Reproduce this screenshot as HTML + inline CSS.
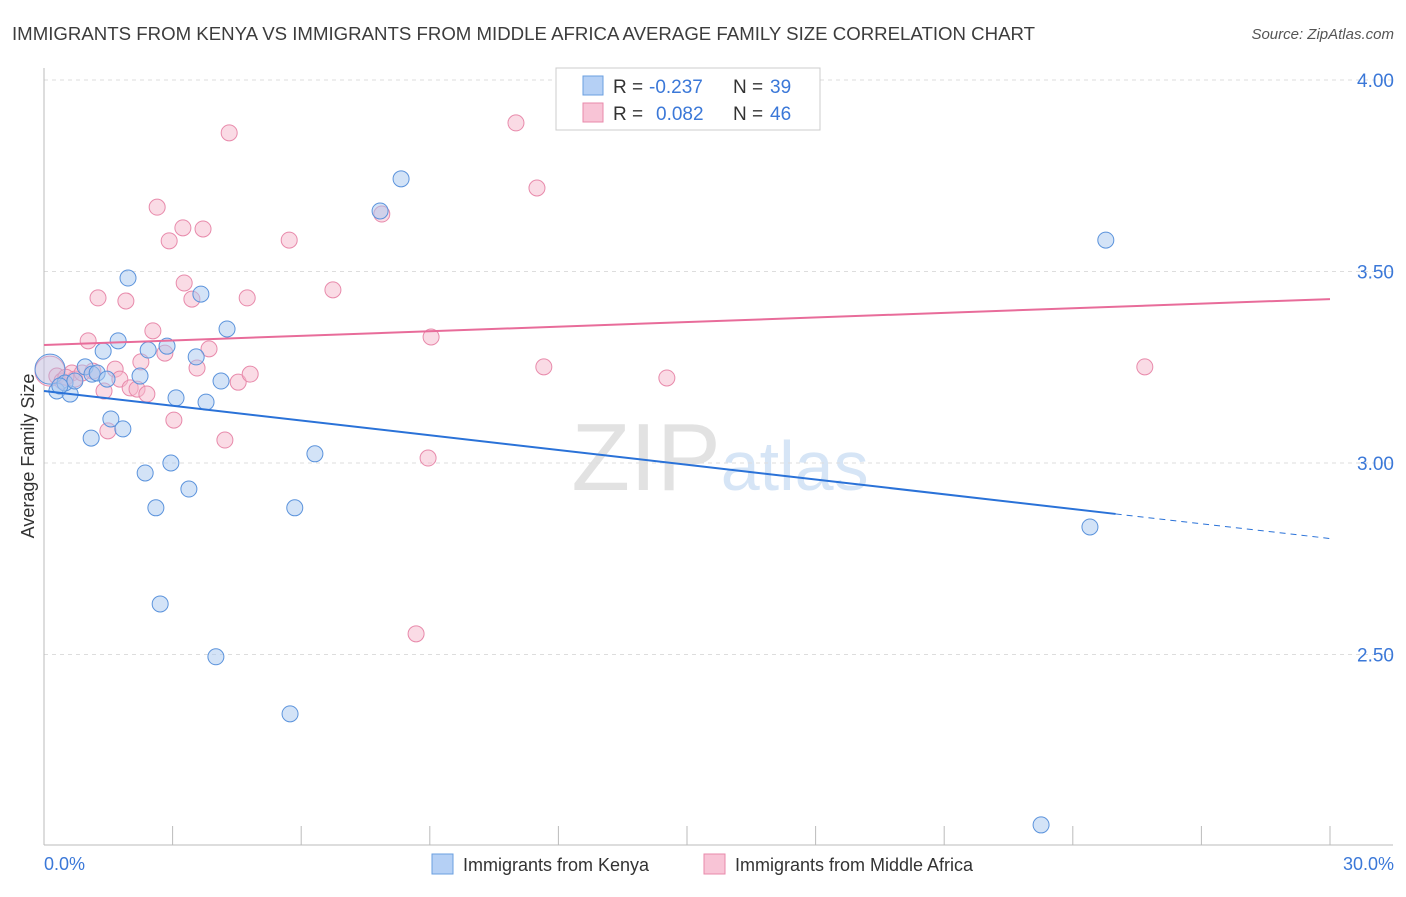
<!DOCTYPE html>
<html><head><meta charset="utf-8"><style>
body{margin:0;background:#fff;font-family:"Liberation Sans",sans-serif;}
svg text{font-family:"Liberation Sans",sans-serif;}
</style></head><body>
<svg id="chart" width="1406" height="892" viewBox="0 0 1406 892" xmlns="http://www.w3.org/2000/svg">
<text x="12" y="40" font-size="18" fill="#3c3c3c" textLength="1023" lengthAdjust="spacingAndGlyphs">IMMIGRANTS FROM KENYA VS IMMIGRANTS FROM MIDDLE AFRICA AVERAGE FAMILY SIZE CORRELATION CHART</text>
<text x="1394" y="39" font-size="15" fill="#555" font-style="italic" text-anchor="end">Source: ZipAtlas.com</text>
<text x="720" y="490" font-size="96" fill="#e8e8e8" text-anchor="middle" font-family="Liberation Serif"><tspan fill="#e2e2e2">ZIP</tspan><tspan fill="#d6e5f6" font-family="Liberation Sans" font-size="70">atlas</tspan></text>
<g id="grid"></g>
<g id="axes"></g>
<g id="pts"></g>
<g id="lines"></g>
<text transform="translate(34,456) rotate(-90)" font-size="18" fill="#333" text-anchor="middle">Average Family Size</text>
<text x="44" y="870" font-size="18" fill="#3b78d8">0.0%</text>
<text x="1394" y="870" font-size="18" fill="#3b78d8" text-anchor="end">30.0%</text>
<g>
<rect x="556" y="68" width="264" height="62" fill="#fff" stroke="#ccc"/>
<rect x="583" y="76" width="20" height="19" fill="#b5d0f5" stroke="#6a9fe0"/>
<rect x="583" y="103" width="20" height="19" fill="#f8c4d6" stroke="#e88aab"/>
<text x="613" y="93" font-size="19" fill="#333">R =</text>
<text x="649" y="93" font-size="19" fill="#3b78d8">-0.237</text>
<text x="733" y="93" font-size="19" fill="#333">N =</text>
<text x="770" y="93" font-size="19" fill="#3b78d8">39</text>
<text x="613" y="120" font-size="19" fill="#333">R =</text>
<text x="656" y="120" font-size="19" fill="#3b78d8">0.082</text>
<text x="733" y="120" font-size="19" fill="#333">N =</text>
<text x="770" y="120" font-size="19" fill="#3b78d8">46</text>
</g>
<g>
<rect x="432" y="854" width="21" height="20" fill="#b5d0f5" stroke="#6a9fe0"/>
<text x="463" y="871" font-size="18" fill="#333">Immigrants from Kenya</text>
</g>
<g>
<rect x="704" y="854" width="21" height="20" fill="#f8c4d6" stroke="#e88aab"/>
<text x="735" y="871" font-size="18" fill="#333">Immigrants from Middle Africa</text>
</g>
</svg>
<script>
const yTicks=[4.0,3.5,3.0,2.5];
const yTickLabels=["4.00","3.50","3.00","2.50"];
const kenyaX=[0.14,0.30,0.61,0.49,0.72,0.96,1.12,1.24,1.38,1.47,1.73,1.56,1.84,1.10,1.96,2.24,2.43,2.87,3.08,3.55,3.66,3.78,4.13,4.27,2.36,2.96,2.61,3.38,2.71,4.01,5.74,5.85,6.32,7.84,8.33,24.77,24.40,23.26,0.37];
const kenyaY=[3.245,3.188,3.180,3.209,3.214,3.251,3.232,3.235,3.292,3.219,3.319,3.115,3.089,3.065,3.483,3.227,3.295,3.305,3.170,3.277,3.441,3.159,3.214,3.350,2.974,3.000,2.883,2.932,2.632,2.494,2.345,2.883,3.024,3.658,3.742,3.582,2.833,2.055,3.201];
const africaX=[0.14,0.30,0.42,0.65,1.26,1.03,1.14,1.40,1.49,1.66,1.77,1.91,2.01,2.17,2.26,2.40,2.54,2.64,2.82,2.92,3.03,3.24,3.27,3.45,3.57,3.71,3.85,4.22,4.32,4.53,4.74,4.81,5.72,6.74,7.88,8.68,8.96,9.03,11.01,11.50,11.66,14.53,25.68,0.72,0.51,0.89];
const africaY=[3.240,3.227,3.214,3.235,3.431,3.319,3.240,3.188,3.084,3.245,3.219,3.423,3.196,3.193,3.264,3.180,3.345,3.668,3.287,3.580,3.112,3.614,3.470,3.428,3.248,3.611,3.298,3.060,3.862,3.211,3.431,3.232,3.582,3.452,3.650,2.554,3.013,3.329,3.888,3.718,3.251,3.222,3.251,3.219,3.224,3.235];
const kenyaTrend=[3.188,-0.01284];
const africaTrend=[3.308,0.0040];
const NS="http://www.w3.org/2000/svg";
const X0=44,X1=1330;
const sx=v=>X0+(v/30)*(X1-X0);
const sy=v=>463-(v-3.0)*383;
function mk(tag,attrs,parent){const e=document.createElementNS(NS,tag);for(const k in attrs)e.setAttribute(k,attrs[k]);parent.appendChild(e);return e;}
const grid=document.getElementById('grid'),axes=document.getElementById('axes'),pts=document.getElementById('pts'),lines=document.getElementById('lines');
yTicks.forEach((t,i)=>{
 const l=mk('line',{x1:44,x2:1393,y1:sy(t),y2:sy(t),stroke:'#ddd','stroke-dasharray':'4,4'},grid);
 
 
 const tx=mk('text',{x:1394,y:sy(t)+7,'font-size':19,fill:'#3b78d8','text-anchor':'end'},grid);
 tx.textContent=yTickLabels[i];
 
 
});
const ax=mk('line',{x1:44,x2:1393,y1:845,y2:845,stroke:'#bbb'},axes);


const ay=mk('line',{x1:44,x2:44,y1:68,y2:845,stroke:'#bbb'},axes);


for(let i=0;i<=10;i++){
 const t=mk('line',{x1:sx(i*3),x2:sx(i*3),y1:826,y2:845,stroke:'#bbb'},axes);
 
 
}
function drawPts(xs,ys,fill,stroke,name){
 xs.forEach((x,i)=>{
  const r=(i===0)?15:8;
  const c=mk('circle',{cx:sx(x),cy:sy(ys[i]),r:r,fill:fill,'fill-opacity':(i===0?0.35:0.5),stroke:stroke,'stroke-width':1},pts);
  
  
 });
}
drawPts(africaX,africaY,'#f5b8cc','#e88aab','middle-africa-point');
drawPts(kenyaX,kenyaY,'#a8c8f0','#5b93dc','kenya-point');
const kEnd=25;
const kl=mk('line',{x1:sx(0),y1:sy(kenyaTrend[0]),x2:sx(kEnd),y2:sy(kenyaTrend[0]+kenyaTrend[1]*kEnd),stroke:'#2a72d8','stroke-width':2},lines);


const kd=mk('line',{x1:sx(kEnd),y1:sy(kenyaTrend[0]+kenyaTrend[1]*kEnd),x2:sx(30),y2:sy(kenyaTrend[0]+kenyaTrend[1]*30),stroke:'#2a72d8','stroke-width':1,'stroke-dasharray':'6,5'},lines);


const al=mk('line',{x1:sx(0),y1:sy(africaTrend[0]),x2:sx(30),y2:sy(africaTrend[0]+africaTrend[1]*30),stroke:'#e86c9a','stroke-width':2},lines);


</script>
</body></html>
